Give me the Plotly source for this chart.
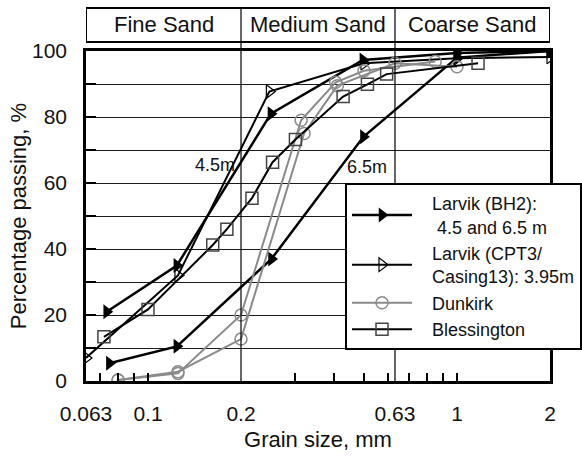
import math
import plotly.graph_objects as go

# ---- grading data (grain size in mm, percentage passing) ----
bh2_45_size = [0.0735, 0.124, 0.25, 0.496, 1.0, 2.0]
bh2_45_pass = [21, 35, 81, 97.3, 99.4, 100]

bh2_65_size = [0.075, 0.124, 0.251, 0.498, 1.0, 2.0]
bh2_65_pass = [5.4, 10.5, 37, 74, 98, 100]

cpt3_size = [0.063, 0.125, 0.247, 0.50, 1.0, 2.0]
cpt3_pass = [7, 32, 87.7, 96.3, 97.8, 98.2]

dunkirk_a_size = [0.08, 0.125, 0.2, 0.313, 0.405, 0.5, 0.85]
dunkirk_a_pass = [0.3, 2.3, 20, 79, 90.5, 94, 96.8]
dunkirk_b_size = [0.08, 0.125, 0.2, 0.32, 0.41, 0.63, 1.0]
dunkirk_b_pass = [0.3, 2.8, 12.7, 75, 89.5, 96.3, 95.2]

bless_size = [0.072, 0.1, 0.162, 0.18, 0.217, 0.253, 0.30, 0.428, 0.513, 0.592, 1.17]
bless_pass = [13.4, 21.7, 41.2, 46, 55.4, 66.3, 73.2, 86.2, 89.9, 93, 96.3]

# ---- axis / classification definitions ----
x_tick_vals = [0.063, 0.1, 0.2, 0.63, 1, 2]
x_tick_text = ["0.063", "0.1", "0.2", "0.63", "1", "2"]
x_minor_vals = [0.07, 0.08, 0.09, 0.1, 0.3, 0.4, 0.5, 0.6, 0.7, 0.8, 0.9, 1.0]
y_tick_vals = [0, 20, 40, 60, 80, 100]

class_bounds = [0.063, 0.2, 0.63, 2]
class_names = ["Fine Sand", "Medium Sand", "Coarse Sand"]

FONT = "Liberation Sans, Arial, sans-serif"
BLACK = "#000000"
GREY = "#8a8a8a"
TXT = "#111111"
PAD = "\u00a0\u00a0\u00a0"  # indent legend labels away from the symbols

fig = go.Figure()

fig.add_trace(go.Scatter(
    x=bh2_45_size, y=bh2_45_pass, mode="lines+markers",
    name=PAD + "Larvik (BH2):<br>" + PAD + "\u00a04.5 and 6.5 m", legendgroup="bh2",
    line=dict(color=BLACK, width=2.5),
    marker=dict(symbol="triangle-right", size=13, color=BLACK),
))
fig.add_trace(go.Scatter(
    x=bh2_65_size, y=bh2_65_pass, mode="lines+markers",
    name="Larvik (BH2) 6.5 m", legendgroup="bh2", showlegend=False,
    line=dict(color=BLACK, width=2.5),
    marker=dict(symbol="triangle-right", size=13, color=BLACK),
))
fig.add_trace(go.Scatter(
    x=cpt3_size, y=cpt3_pass, mode="lines+markers",
    name=PAD + "Larvik (CPT3/<br>" + PAD + "Casing13): 3.95m", legendgroup="cpt3",
    line=dict(color=BLACK, width=2),
    marker=dict(symbol="triangle-right-open", size=12, color=BLACK,
                line=dict(width=1.2)),
))
fig.add_trace(go.Scatter(
    x=dunkirk_a_size, y=dunkirk_a_pass, mode="lines+markers",
    name=PAD + "Dunkirk", legendgroup="dunkirk",
    line=dict(color=GREY, width=2),
    marker=dict(symbol="circle-open", size=12, color=GREY, line=dict(width=1.5)),
))
fig.add_trace(go.Scatter(
    x=dunkirk_b_size, y=dunkirk_b_pass, mode="lines+markers",
    name="Dunkirk B", legendgroup="dunkirk", showlegend=False,
    line=dict(color=GREY, width=2),
    marker=dict(symbol="circle-open", size=12, color=GREY, line=dict(width=1.5)),
))
fig.add_trace(go.Scatter(
    x=bless_size, y=bless_pass, mode="lines+markers",
    name=PAD + "Blessington", legendgroup="bless",
    line=dict(color=BLACK, width=2),
    marker=dict(symbol="square-open", size=12, color="#444444", line=dict(width=1.5)),
))

# ---- plot geometry (pixels) ----
W, H = 582, 458
ml, mr, mt, mb = 86, 32, 51, 77
plot_h = H - mt - mb
band_bottom = 1 + (mt - 42) / plot_h
band_top = 1 + (mt - 8) / plot_h

shapes = []
# class boundary lines through plot and band
for b in class_bounds[1:-1]:
    shapes.append(dict(type="line", xref="x", yref="paper", x0=b, x1=b,
                       y0=0, y1=band_top, line=dict(color=BLACK, width=1.2)))
# band frame
shapes.append(dict(type="rect", xref="x", yref="paper",
                   x0=class_bounds[0], x1=class_bounds[-1],
                   y0=band_bottom, y1=band_top,
                   line=dict(color=BLACK, width=2)))

annotations = []
for name, lo, hi in zip(class_names, class_bounds[:-1], class_bounds[1:]):
    annotations.append(dict(
        x=(math.log10(lo) + math.log10(hi)) / 2, y=(band_bottom + band_top) / 2,
        xref="x", yref="paper", xanchor="center", yanchor="middle",
        text=name, showarrow=False,
        font=dict(family=FONT, size=22, color=TXT),
    ))
# depth labels on the BH2 curves
annotations.append(dict(x=math.log10(0.165), y=65.5, xref="x", yref="y",
                        xanchor="center", yanchor="middle",
                        text="4.5m", showarrow=False,
                        font=dict(family=FONT, size=18, color=TXT)))
annotations.append(dict(x=math.log10(0.511), y=65, xref="x", yref="y",
                        xanchor="center", yanchor="middle",
                        text="6.5m", showarrow=False,
                        font=dict(family=FONT, size=18, color=TXT)))

fig.update_layout(
    width=W, height=H,
    margin=dict(l=ml, r=mr, t=mt, b=mb, autoexpand=False),
    paper_bgcolor="white", plot_bgcolor="white",
    font=dict(family=FONT, color=TXT),
    shapes=shapes, annotations=annotations,
    legend=dict(
        x=(345 - ml) / (W - ml - mr), y=(H - mb - 183) / plot_h,
        xanchor="left", yanchor="top",
        bgcolor="white", bordercolor=BLACK, borderwidth=2,
        font=dict(family=FONT, size=18, color=TXT),
        itemwidth=60, tracegroupgap=2, traceorder="normal",
    ),
    showlegend=True,
)

fig.update_xaxes(
    type="log", range=[math.log10(class_bounds[0]), math.log10(class_bounds[-1])],
    tickmode="array", tickvals=x_tick_vals, ticktext=x_tick_text,
    ticks="", showgrid=False, zeroline=False,
    tickfont=dict(family=FONT, size=21, color=TXT),
    ticklabelstandoff=12,
    showline=True, mirror=True, linecolor=BLACK, linewidth=2.5,
    minor=dict(tickmode="array", tickvals=x_minor_vals, ticks="inside",
               ticklen=8, tickwidth=2, tickcolor=BLACK, showgrid=False),
    title=dict(text="Grain size, mm", standoff=8,
               font=dict(family=FONT, size=22, color=TXT)),
)
fig.update_yaxes(
    range=[0, 100], tickmode="array", tickvals=y_tick_vals,
    ticks="inside", ticklen=10, tickwidth=2, tickcolor=BLACK,
    showgrid=True, gridcolor="#1a1a1a", gridwidth=1.2, zeroline=False,
    tickfont=dict(family=FONT, size=21, color=TXT),
    ticklabelstandoff=12,
    showline=True, mirror=True, linecolor=BLACK, linewidth=2.5,
    minor=dict(tick0=0, dtick=10, ticks="inside", ticklen=10, tickwidth=2,
               tickcolor=BLACK, showgrid=True, gridcolor="#1a1a1a", gridwidth=1.2),
    title=dict(text="Percentage passing, %", standoff=0,
               font=dict(family=FONT, size=22, color=TXT)),
)

fig.write_html("out.html")
